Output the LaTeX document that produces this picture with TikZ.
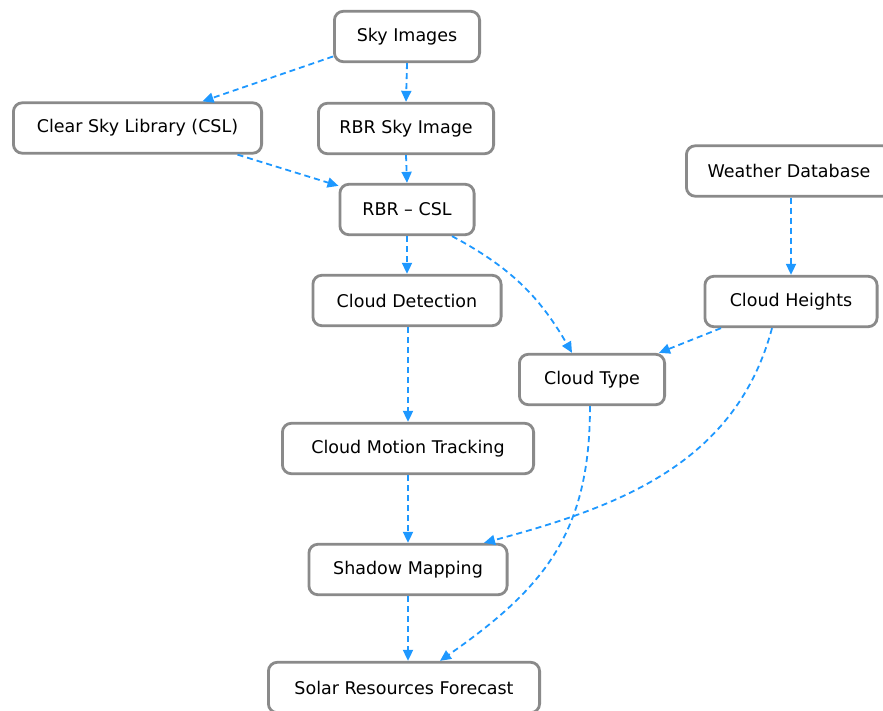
\documentclass[tikz,border=0pt]{standalone}
\usepackage{fontspec}
\setmainfont{DejaVu Sans}
\usetikzlibrary{arrows.meta}
\definecolor{flowblue}{RGB}{30,152,255}
\definecolor{boxgray}{RGB}{138,138,138}

\begin{document}
\begin{tikzpicture}[x=1pt,y=-1pt,
	box/.style={draw=boxgray,line width=2.8pt,rounded corners=9pt,fill=white,minimum height=50.5pt,inner sep=0pt,font=\fontsize{17.5}{20}\selectfont},
	flow/.style={draw=flowblue,line width=1.8pt,dash pattern=on 6pt off 4pt,-{Triangle[length=11pt,width=10pt]}}]
				\useasboundingbox (0,0) rectangle (883,711);
				\node[box,minimum width=145.2pt] (sky) at (407,36.5) {Sky Images};
				\node[box,minimum width=248.2pt] (csl) at (137.5,128) {Clear Sky Library (CSL)};
				\node[box,minimum width=175.2pt] (rbr) at (406,128.5) {RBR Sky Image};
				\node[box,minimum width=205.2pt] (weather) at (789,171) {Weather Database};
				\node[box,minimum width=134.2pt] (rbrcsl) at (407,209.5) {RBR -- CSL};
				\node[box,minimum width=188.2pt] (detect) at (407,300.5) {Cloud Detection};
				\node[box,minimum width=172.2pt] (heights) at (791,301.5) {Cloud Heights};
				\node[box,minimum width=145.2pt] (type) at (592,379.5) {Cloud Type};
				\node[box,minimum width=251.2pt] (motion) at (408,448.5) {Cloud Motion Tracking};
				\node[box,minimum width=198.2pt] (shadow) at (408,569.5) {Shadow Mapping};
				\node[box,minimum width=271.2pt] (solar) at (404,687.5) {Solar Resources Forecast};
				\draw[flow] ([yshift=-20pt]sky.west) to ([xshift=65pt]csl.north);
				\draw[flow] (sky.south) to (rbr.north);
				\draw[flow] ([xshift=100pt]csl.south) to ([yshift=-3pt]rbrcsl.north west);
				\draw[flow] (rbr.south) to (rbrcsl.north);
				\draw[flow] (rbrcsl.south) to (detect.north);
				\draw[flow] ([xshift=45pt]rbrcsl.south) to[out=-28,in=120] ([xshift=-20pt]type.north);
				\draw[flow] (weather.south -| heights.south) to (heights.north);
				\draw[flow] ([xshift=-70pt]heights.south) to ([xshift=-7pt]type.north east);
				\draw[flow] ([xshift=-19pt]heights.south) to[out=-105,in=15] ([xshift=76pt]shadow.north);
				\draw[flow] (detect.south -| motion.north) to (motion.north);
				\draw[flow] (motion.south) to (shadow.north);
				\draw[flow] ([xshift=-2pt]type.south) to[out=-90,in=35,looseness=1.1] ([xshift=36pt]solar.north);
				\draw[flow] (shadow.south) to (solar.north -| shadow.south);
			\end{tikzpicture}
\end{document}
